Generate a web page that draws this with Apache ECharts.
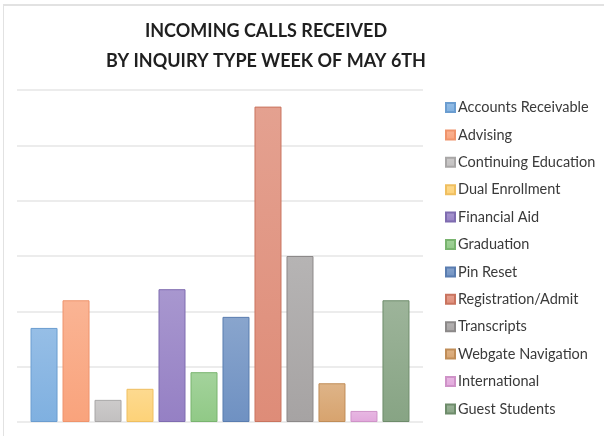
<!DOCTYPE html>
<html>
<head>
<meta charset="utf-8">
<script src="https://cdn.jsdelivr.net/npm/echarts@6/dist/echarts.min.js"></script>
<style>
html,body{margin:0;padding:0;background:#fff;}
#frame{position:absolute;left:3px;top:4px;width:610px;height:440px;border-left:1px solid #e2e2e2;border-top:2px solid #e2e2e2;}
#c{position:absolute;left:0;top:0;width:604px;height:436px;}
</style>
</head>
<body>
<div id="frame"></div>
<div id="c"></div>
<script>
var categories = ['Accounts Receivable','Advising','Continuing Education','Dual Enrollment','Financial Aid','Graduation','Pin Reset','Registration/Admit','Transcripts','Webgate Navigation','International','Guest Students'];
var values = [17, 22, 4, 6, 24, 9, 19, 57, 30, 7, 2, 22];
var colors = ['#7fb0e0','#f9a37c','#c2c0c0','#fdd278','#9580c4','#90c986','#6f91c2','#de8c78','#a6a3a3','#d7a36e','#e2a8dc','#87a484'];
var borders = ['#6b9dd0','#ef946c','#a9a7a7','#efbf60','#7f6cb0','#79b46f','#5a7db0','#c9745f','#8c8989','#c08d58','#cf93c8','#6e8c6b'];
var title1 = 'INCOMING CALLS RECEIVED';
var title2 = 'BY INQUIRY TYPE WEEK OF MAY 6TH';

function lighten(hex, f){
  var n=parseInt(hex.slice(1),16);
  var r=(n>>16)&255,g=(n>>8)&255,b=n&255;
  r=Math.round(r+(255-r)*f);g=Math.round(g+(255-g)*f);b=Math.round(b+(255-b)*f);
  return 'rgb('+r+','+g+','+b+')';
}

var series = categories.map(function(name,i){
  return {
    name:name,
    type:'bar',
    data:[values[i]],
    barWidth:27,
    barGap:'18.5%',
    itemStyle:{
      color:new echarts.graphic.LinearGradient(0,0,0,1,[{offset:0,color:lighten(colors[i],0.18)},{offset:1,color:colors[i]}]),
      borderColor:borders[i],
      borderWidth:1
    }
  };
});

var chart = echarts.init(document.getElementById('c'));
chart.setOption({
  animation:false,
  color:colors,
  title:{
    text:title1+'\n'+title2,
    left:261,
    textAlign:'center',
    top:11,
    textStyle:{fontFamily:'Lato',fontWeight:'bold',fontSize:18,color:'#1f1f1f',lineHeight:30}
  },
  legend:{
    orient:'vertical',
    left:440,
    top:95,
    itemWidth:9,
    itemHeight:9,
    itemGap:12.4,
    icon:'rect',
    textStyle:{fontFamily:'Lato',fontSize:14.5,color:'#3a3a3a',padding:[0,0,0,-2],lineHeight:14},
    data:categories
  },
  grid:{left:17,right:181,top:90,bottom:14},
  xAxis:{
    type:'category',
    data:[''],
    axisLine:{show:false},
    axisTick:{show:false},
    axisLabel:{show:false}
  },
  yAxis:{
    type:'value',
    min:0,max:60,interval:10,
    axisLabel:{show:false},
    axisLine:{show:false},
    axisTick:{show:false},
    splitLine:{lineStyle:{color:'#e6e6e6',width:1.5}}
  },
  series:series
});
</script>
</body>
</html>
